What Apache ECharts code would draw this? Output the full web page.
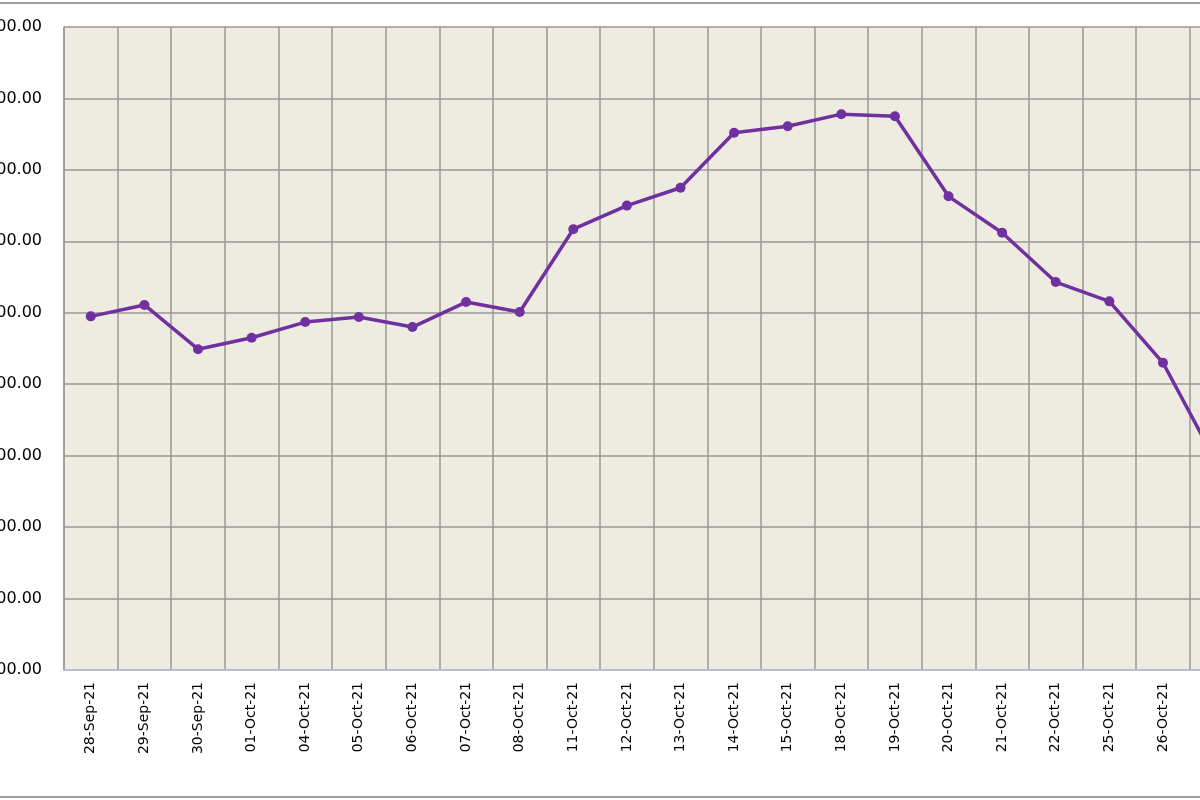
<!DOCTYPE html>
<html><head><meta charset="utf-8">
<script src="https://cdn.jsdelivr.net/npm/echarts@6/dist/echarts.min.js"></script>
<style>html,body{margin:0;padding:0;overflow:hidden;width:1200px;height:800px;background:#fff}
#c{position:absolute;left:0;top:0;width:1400px;height:800px}
#t{position:absolute;left:0;top:2px;width:1200px;height:2px;background:#a0a0a0}
#b{position:absolute;left:0;top:796px;width:1200px;height:2px;background:#a0a0a0}</style>
</head><body><div id="c"></div><div id="t"></div><div id="b"></div>
<script>
const categories = ['28-Sep-21','29-Sep-21','30-Sep-21','01-Oct-21','04-Oct-21','05-Oct-21','06-Oct-21','07-Oct-21','08-Oct-21','11-Oct-21','12-Oct-21','13-Oct-21','14-Oct-21','15-Oct-21','18-Oct-21','19-Oct-21','20-Oct-21','21-Oct-21','22-Oct-21','25-Oct-21','26-Oct-21','27-Oct-21','28-Oct-21'];
const values = [595,611,549,565,587,594,580,615,601,717,750,775,852,861,878,875,763,712,643,616,530,390,350];
const yMin = 100, yMax = 1000, yStep = 100;
const chart = echarts.init(document.getElementById('c'));
chart.setOption({
  animation:false,
  backgroundColor:'#fff',
  grid:{left:64,right:103,top:27,bottom:130,show:true,backgroundColor:'#EEEBE0',borderWidth:0,outerBoundsMode:'none',containLabel:false},
  xAxis:{type:'category',data:categories,
    axisLine:{lineStyle:{color:'#b8c4dc',width:1.5}},axisTick:{show:false},
    axisLabel:{rotate:90,color:'#000',fontFamily:'DejaVu Sans',fontSize:14,margin:12},
    splitLine:{show:true,lineStyle:{color:'#999',width:1.5}}},
  yAxis:{type:'value',min:yMin,max:yMax,interval:yStep,
    axisLine:{show:true,lineStyle:{color:'#999',width:1.5}},axisTick:{show:false},
    axisLabel:{color:'#000',fontFamily:'DejaVu Sans',fontSize:16,margin:22,formatter:v=>v.toFixed(2)},
    splitLine:{lineStyle:{color:'#999',width:1.5}}},
  series:[{type:'line',data:values,symbol:'circle',symbolSize:10,
    lineStyle:{color:'#7030A0',width:3.5},itemStyle:{color:'#7030A0'}}]
});
</script></body></html>
